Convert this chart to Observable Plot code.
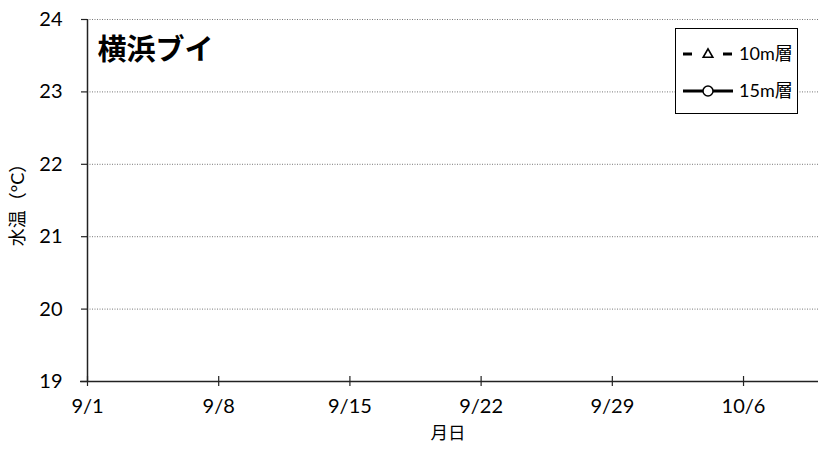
<!DOCTYPE html>
<html><head><meta charset="utf-8">
<script src="https://cdn.jsdelivr.net/npm/d3@7"></script>
<script src="https://cdn.jsdelivr.net/npm/@observablehq/plot@0.6"></script>
<style>
html,body{margin:0;padding:0;background:#fff;}
#wrap{position:relative;width:829px;height:451px;font-family:Lato,"Noto Sans CJK JP",sans-serif;}
#legend{position:absolute;left:0;top:0;pointer-events:none;}
#wrap g[aria-label="x-axis tick label"] text, #wrap g[aria-label="y-axis tick label"] text{font-size:20px !important;font-variant-numeric:normal;}
</style></head>
<body><div id="wrap"></div>
<script>
// Data (the reference chart shows no observations)
const dates = [];           // observation dates
const temp10m = [];         // 10m layer water temperature (°C)
const temp15m = [];         // 15m layer water temperature (°C)
const seriesNames = ["10m層", "15m層"];
const xStart = "2023-09-01", xEnd = "2023-10-10";
const xTickDates = ["2023-09-01","2023-09-08","2023-09-15","2023-09-22","2023-09-29","2023-10-06"];
const yTicks = [19, 20, 21, 22, 23, 24];
const title = "横浜ブイ";
const yLabel = "水温（°C）";
const xLabel = "月日";

const parse = d3.utcParse("%Y-%m-%d");
const rows10 = dates.map((d, i) => ({date: parse(d), v: temp10m[i]}));
const rows15 = dates.map((d, i) => ({date: parse(d), v: temp15m[i]}));
const xt = xTickDates.map(parse);
const fmt = d => `${d.getUTCMonth() + 1}/${d.getUTCDate()}`;

const font = "Lato, 'Noto Sans CJK JP', sans-serif";
const plot = Plot.plot({
  width: 829, height: 451,
  marginLeft: 87, marginRight: 11, marginTop: 19, marginBottom: 70,
  style: {fontFamily: font, fontSize: "18px", color: "#000", background: "#fff"},
  x: {type: "utc", domain: [parse(xStart), parse(xEnd)]},
  y: {domain: [19, 24]},
  marks: [
    Plot.gridY(yTicks.slice(1), {stroke: "#777", strokeOpacity: 1, strokeDasharray: "1,1.5", strokeWidth: 1}),
    Plot.axisY(yTicks, {tickSize: 6, tickPadding: 19, tickFormat: d => String(d), fontSize: 20, stroke: "#222", strokeWidth: 1.2, label: null}),
    Plot.axisX(xt, {tickSize: 5, tickPadding: 12, tickFormat: fmt, fontSize: 20, stroke: "#222", strokeWidth: 1.2, label: null}),
    Plot.tickX(xt, {x: d => d, stroke: "#222", strokeWidth: 1.2, insetTop: 357}),
    Plot.ruleX([parse(xStart)], {stroke: "#222", strokeWidth: 1.5}),
    Plot.ruleY([19], {stroke: "#222", strokeWidth: 1.5, insetLeft: -7}),
    Plot.line(rows10, {x: "date", y: "v", stroke: "#000", strokeWidth: 2.5, strokeDasharray: "8,16"}),
    Plot.dot(rows10, {x: "date", y: "v", symbol: "triangle", fill: "#fff", stroke: "#000", strokeWidth: 1.5, r: 4}),
    Plot.line(rows15, {x: "date", y: "v", stroke: "#000", strokeWidth: 2.5}),
    Plot.dot(rows15, {x: "date", y: "v", symbol: "circle", fill: "#fff", stroke: "#000", strokeWidth: 1.5, r: 5}),
    Plot.text([title], {text: d => d, frameAnchor: "top-left", dx: 10, dy: 20, fontSize: 29, fontWeight: "bold", textAnchor: "start", lineAnchor: "top"}),
    Plot.text([yLabel], {text: d => d, frameAnchor: "left", textAnchor: "middle", dx: -69, rotate: -90, fontSize: 18}),
    Plot.text([xLabel], {text: d => d, frameAnchor: "bottom", textAnchor: "middle", dx: -5, dy: 57, fontSize: 17.5})
  ]
});
const wrap = document.getElementById("wrap");
wrap.appendChild(plot);

// Legend overlay
const lg = d3.select(wrap).append("svg").attr("id", "legend").attr("width", 829).attr("height", 451);
lg.append("rect").attr("x", 675.5).attr("y", 28.5).attr("width", 122).attr("height", 85).attr("fill", "#fff").attr("stroke", "#000").attr("stroke-width", 1);
const rowsY = [54, 91];
// row 1: dashed line with triangle
lg.append("line").attr("x1", 683).attr("x2", 692).attr("y1", rowsY[0]).attr("y2", rowsY[0]).attr("stroke", "#000").attr("stroke-width", 3);
lg.append("line").attr("x1", 723).attr("x2", 732).attr("y1", rowsY[0]).attr("y2", rowsY[0]).attr("stroke", "#000").attr("stroke-width", 3);
lg.append("path").attr("d", d3.symbol(d3.symbolTriangle, 40)()).attr("transform", `translate(708,${rowsY[0]+0.5})`).attr("fill", "#fff").attr("stroke", "#000").attr("stroke-width", 1.6);
// row 2: solid line with circle
lg.append("line").attr("x1", 683).attr("x2", 733).attr("y1", rowsY[1]).attr("y2", rowsY[1]).attr("stroke", "#000").attr("stroke-width", 3);
lg.append("circle").attr("cx", 708).attr("cy", rowsY[1]).attr("r", 5).attr("fill", "#fff").attr("stroke", "#000").attr("stroke-width", 1.5);
seriesNames.forEach((n, i) => {
  lg.append("text").attr("x", 739).attr("y", rowsY[i]).attr("dy", "0.35em").attr("font-size", 18).attr("font-family", font).text(n);
});
</script></body></html>
